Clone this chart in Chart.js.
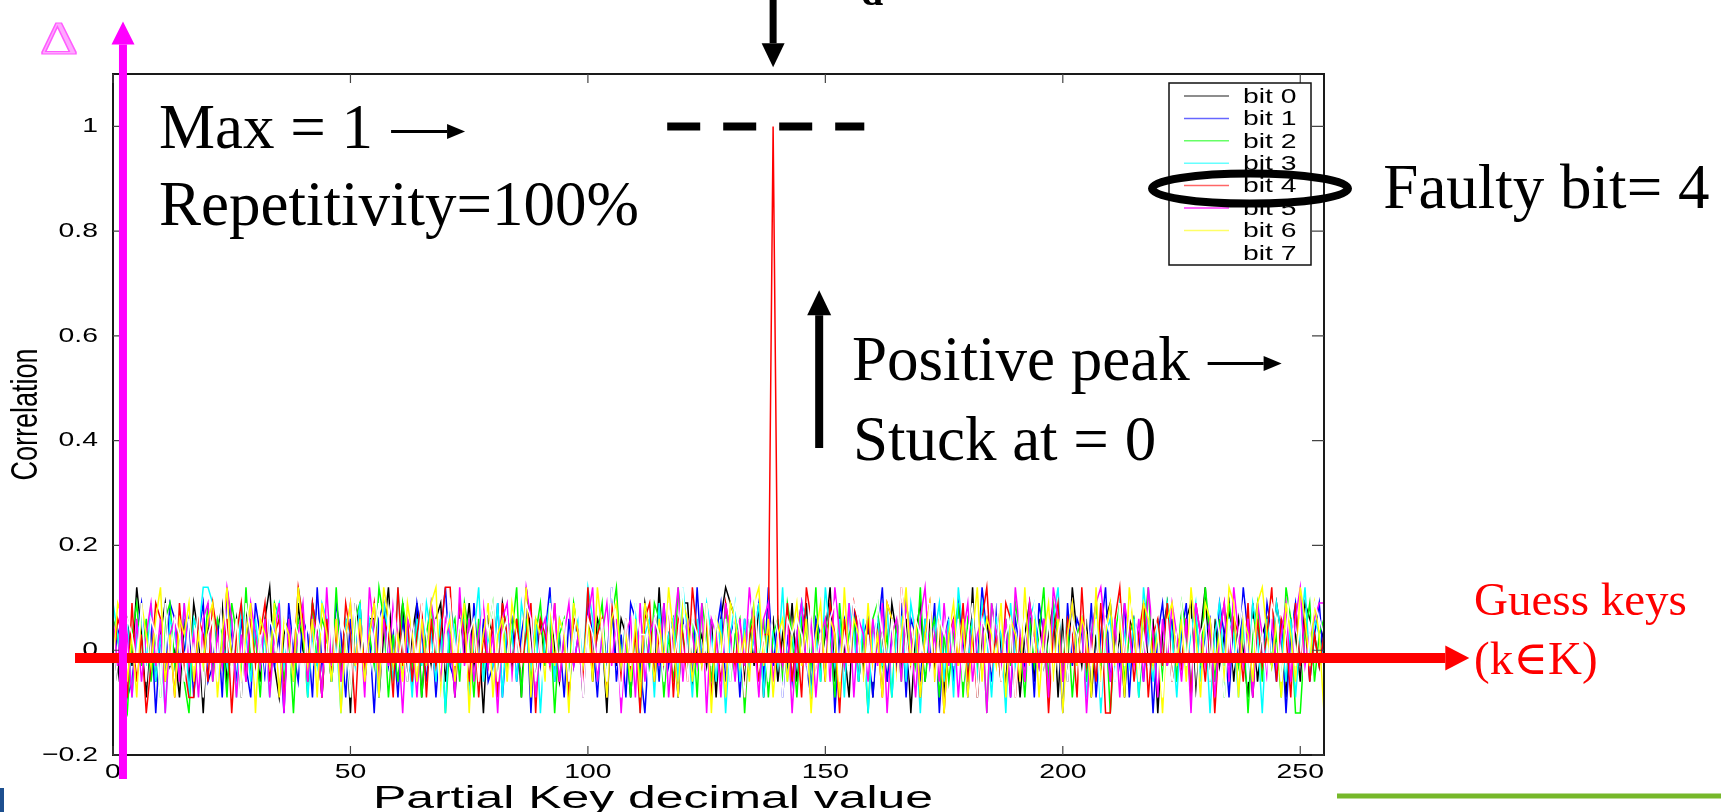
<!DOCTYPE html>
<html>
<head>
<meta charset="utf-8">
<title>Correlation vs partial key</title>
<script src="https://cdn.jsdelivr.net/npm/chart.js@4.4.1/dist/chart.umd.min.js"></script>
<style>
  html, body { margin: 0; padding: 0; background: #ffffff; }
  #plot { display: block; }
</style>
</head>
<body>
<canvas id="plot" width="1721" height="812"></canvas>
<script>
// x axis: the 256 partial key guesses 0..255
const partialKeys = Array.from({ length: 256 }, (_, k) => k);

const xTicks = [0, 50, 100, 150, 200, 250];
const yTicks = [-0.2, 0, 0.2, 0.4, 0.6, 0.8, 1];
const yTickLabels = ['\u22120.2', '0', '0.2', '0.4', '0.6', '0.8', '1'];

const bitLabels = ['bit 0', 'bit 1', 'bit 2', 'bit 3', 'bit 4', 'bit 5', 'bit 6', 'bit 7'];
const bitColors = ['#000000', '#0000ff', '#00ff00', '#00ffff', '#ff0000', '#ff00ff', '#ffff00', '#ffffff'];

// correlation per key guess (noise band is about +-0.12)
const bit0 = [
  0.03, -0.06, 0.09, 0.06, -0.03, 0.12, 0.03, -0.09, 0.06, -0.06, 0.03, 0.09, -0.03, 0, -0.09, 0.06,
  -0.06, 0.09, 0.03, -0.12, 0.06, -0.03, 0.03, 0.09, -0.06, 0, 0.06, -0.09, 0.09, -0.03, 0.03, -0.06,
  0.06, 0.12, -0.03, -0.09, 0.03, 0.06, -0.06, 0.09, 0, -0.03, 0.09, 0.03, -0.09, 0.06, -0.06, 0.03,
  -0.03, 0.06, -0.12, 0.09, 0.03, -0.06, 0.06, 0.06, -0.09, 0.03, 0.12, -0.03, 0, 0.09, -0.06, 0.03,
  0.09, -0.09, 0.03, -0.03, 0.06, 0.09, -0.06, 0.03, -0.09, 0.06, 0, 0.09, -0.03, 0.03, -0.12, 0.06,
  0.03, -0.06, 0.09, 0.03, -0.03, 0.06, -0.09, 0.12, 0.03, -0.06, 0.06, -0.03, 0.09, 0, -0.06, 0.03,
  -0.09, 0.06, 0.03, -0.03, 0.09, -0.06, 0.06, 0.03, -0.12, 0.09, -0.03, 0.06, 0.03, -0.09, 0.06, -0.06,
  0.09, 0.03, -0.06, 0.12, -0.03, 0.03, 0.06, -0.09, 0.09, 0.09, -0.06, 0, 0.03, -0.03, 0.06, -0.09,
  0.06, 0.12, 0.09, 0.06, 0.03, -0.06, 0.06, -0.03, 0.09, -0.09, 0.03, 0.06, -0.06, 0.03, -0.03, 0.09,
  -0.06, 0.03, 0.09, -0.09, 0.06, -0.03, 0.03, 0.12, -0.06, 0.06, 0, -0.09, 0.09, 0.03, -0.03, 0.06,
  -0.09, 0.06, 0.03, -0.06, 0.09, 0.03, -0.03, 0.06, -0.12, 0.03, 0.09, -0.06, 0.06, -0.03, 0.03, -0.09,
  0.06, -0.03, 0.09, 0.03, -0.06, 0.12, -0.09, 0.03, 0.06, -0.03, 0.09, 0, -0.06, 0.06, 0.03, -0.09,
  0.03, 0.09, -0.06, 0.06, -0.03, 0.03, 0.09, -0.09, 0.06, -0.06, 0.12, 0.03, -0.03, 0.06, -0.09, 0.03,
  -0.06, 0.06, 0.09, -0.03, 0.03, -0.09, 0.06, 0.03, -0.06, 0.09, -0.03, 0.06, -0.12, 0.03, 0.09, -0.06,
  0.03, -0.03, 0.06, 0.09, -0.09, 0.03, 0.12, -0.06, 0.06, -0.03, 0.03, 0.09, -0.06, 0.06, 0, -0.09,
  0.09, -0.06, 0.03, 0.06, -0.03, 0.09, 0.03, -0.09, 0.06, 0.03, -0.06, 0.09, 0.06, 0.03, -0.03, 0.06
];
const bit1 = [
  -0.03, 0.03, 0.06, -0.09, -0.06, 0.03, 0.09, -0.03, 0.06, -0.12, 0.03, -0.06, 0.09, 0.06, -0.03, 0,
  0.06, -0.09, 0.03, 0.09, -0.06, -0.03, 0.06, -0.09, 0.12, 0.03, -0.06, 0.06, -0.03, -0.09, 0.09, 0.03,
  -0.06, 0.06, -0.03, 0.03, -0.12, 0.09, 0, -0.06, 0.06, 0.03, -0.09, 0.12, -0.03, 0.03, -0.06, 0.09,
  0.03, -0.09, 0.06, -0.03, 0.09, -0.06, 0.03, -0.12, 0.06, 0.09, -0.03, 0.03, -0.09, 0.06, 0, -0.06,
  0.09, 0.03, -0.06, 0.06, -0.09, 0.03, 0.12, -0.03, -0.06, 0.06, 0.03, -0.09, 0.09, -0.03, 0.06, -0.06,
  -0.03, 0.09, -0.09, 0.03, 0.06, -0.06, 0.03, 0.09, -0.12, 0.06, -0.03, 0.03, 0.12, -0.06, 0.03, -0.09,
  0.06, -0.03, 0.03, -0.06, 0.09, 0.03, -0.09, 0.06, -0.03, 0.12, -0.06, 0.03, -0.09, 0.09, 0.06, -0.03,
  -0.12, 0.03, 0.06, -0.06, 0.09, -0.03, 0.03, -0.09, 0.06, 0.03, -0.06, 0.12, -0.03, 0.06, -0.09, 0.03,
  0.09, -0.06, 0.03, 0.06, -0.09, 0.06, -0.03, 0.03, 0.09, -0.06, 0.12, -0.03, 0.06, -0.09, 0.03, -0.06,
  0.03, 0.09, -0.03, -0.09, 0.06, 0.03, -0.06, 0.09, -0.12, 0.03, 0.06, -0.03, 0.09, -0.06, 0.03, 0.06,
  -0.09, 0.03, 0.12, -0.06, 0.03, -0.03, 0.09, -0.09, 0.06, 0.03, -0.06, 0.06, -0.03, 0.09, -0.12, 0.03,
  0.06, -0.06, 0.09, 0.03, -0.09, 0.06, -0.03, 0.12, 0.03, -0.06, 0.09, -0.03, 0.03, -0.09, 0.06, 0,
  -0.03, 0.06, -0.09, 0.09, 0.03, -0.06, 0.06, 0.03, -0.12, 0.09, -0.03, 0.06, 0.03, -0.06, 0.09, -0.09,
  0.03, 0.12, -0.06, 0.03, -0.03, 0.09, -0.09, 0.06, 0.03, -0.06, 0.06, -0.12, 0.03, 0.09, -0.03, 0.06,
  -0.06, 0.03, 0.09, -0.09, 0.06, -0.03, 0.03, 0.06, -0.06, 0.09, 0.03, -0.09, 0.06, -0.03, 0.12, 0.03,
  -0.09, 0.06, -0.03, 0.09, 0.03, -0.06, 0.06, -0.12, 0.03, 0.09, -0.03, 0.06, -0.06, 0.03, 0.09, -0.03
];
const bit2 = [
  0.06, 0.03, -0.09, -0.12, 0.03, 0.09, -0.03, 0.06, -0.06, 0.03, -0.09, 0.06, 0.09, -0.03, 0.03, -0.06,
  -0.12, 0.06, 0.03, -0.03, 0.09, -0.06, 0.06, 0.03, -0.09, 0.09, 0.03, -0.06, 0.12, -0.03, 0.03, -0.09,
  0.06, -0.03, 0.09, 0.06, -0.06, 0.03, -0.12, 0.06, 0.03, -0.09, 0.09, -0.03, 0.06, 0.03, -0.06, 0.12,
  -0.03, 0.03, -0.09, 0.06, 0.09, -0.06, 0.03, -0.03, 0.12, 0.06, -0.09, 0.03, -0.06, 0.09, 0.03, -0.03,
  0.06, -0.09, 0.03, 0.09, -0.03, 0.06, -0.12, 0.03, 0.06, -0.06, 0.09, 0.03, -0.09, 0.06, -0.03, 0.03,
  0.09, -0.06, 0.06, -0.03, 0.03, 0.12, -0.09, 0.06, -0.06, 0.03, 0.09, -0.03, 0.06, -0.12, 0.03, 0.06,
  -0.06, 0.09, 0.03, -0.09, 0.06, -0.03, 0.03, 0.09, -0.06, 0.06, 0.12, -0.03, 0.03, -0.09, 0.06, -0.06,
  0.03, -0.03, 0.09, 0.06, -0.09, 0.03, -0.06, 0.12, 0.03, -0.03, 0.06, -0.09, 0.09, 0.03, -0.06, 0.06,
  -0.03, 0.09, -0.06, 0.03, 0.06, -0.12, 0.03, 0.09, -0.03, 0.06, -0.09, 0.03, 0.06, -0.06, 0.09, 0.03,
  -0.09, 0.06, 0.03, -0.03, 0.12, -0.06, 0.06, 0.03, -0.09, 0.09, -0.03, 0.03, 0.06, -0.06, 0.03, -0.12,
  0.06, 0.09, -0.03, 0.03, -0.09, 0.06, -0.06, 0.09, 0.03, -0.03, 0.12, -0.06, 0.03, 0.06, -0.09, 0.03,
  -0.06, 0.03, 0.09, -0.09, 0.06, 0.03, -0.03, 0.06, -0.12, 0.09, 0.03, -0.06, 0.06, -0.03, 0.09, 0.03,
  -0.09, 0.06, -0.03, 0.03, 0.12, -0.06, 0.09, 0.03, -0.03, 0.06, -0.09, 0.03, 0.06, -0.06, 0.03, 0.09,
  -0.03, 0.06, -0.12, 0.03, 0.09, -0.06, 0.03, 0.06, -0.09, 0.03, 0.12, -0.03, 0.06, -0.06, 0.09, 0.03,
  -0.06, 0.09, 0.03, -0.09, 0.06, -0.03, 0.12, 0.03, -0.06, 0.06, -0.09, 0.09, 0.03, -0.03, 0.06, -0.12,
  0.03, 0.09, -0.06, 0.06, -0.03, 0.03, -0.09, 0.12, 0.06, -0.12, -0.12, 0.03, 0.09, -0.06, 0.03, 0.06
];
const bit3 = [
  0.09, 0.03, -0.06, 0.06, -0.09, 0.03, 0.06, -0.03, 0.09, -0.06, 0.03, -0.12, 0.06, 0.03, -0.03, 0.09,
  -0.09, 0.06, 0.03, 0.12, 0.12, 0.09, -0.06, 0.03, -0.03, 0.06, -0.09, 0.09, 0.03, -0.06, 0.06, -0.03,
  0.03, -0.09, 0.06, 0.09, -0.03, 0.03, -0.06, 0.12, 0.06, -0.09, 0.03, -0.03, 0.09, 0.06, -0.06, 0.03,
  -0.12, 0.06, 0.03, -0.03, 0.09, -0.06, 0.06, 0.03, -0.09, 0.09, 0.03, -0.06, 0.12, -0.03, 0.03, -0.09,
  0.06, -0.03, 0.09, 0.03, -0.06, 0.06, -0.12, 0.09, 0.03, -0.03, 0.06, -0.09, 0.03, 0.12, -0.06, 0.03,
  -0.03, 0.09, -0.09, 0.06, 0.03, -0.06, 0.09, 0.03, -0.03, 0.06, -0.12, 0.03, 0.09, -0.06, 0.06, 0.03,
  -0.09, 0.03, 0.06, -0.03, 0.12, 0.06, -0.06, 0.03, -0.09, 0.09, 0.03, -0.03, 0.06, -0.06, 0.09, -0.12,
  0.03, 0.06, -0.09, 0.09, -0.03, 0.03, 0.06, -0.06, 0.12, 0.03, -0.09, 0.06, -0.03, 0.09, 0.03, -0.06,
  0.06, -0.12, 0.03, 0.09, -0.06, 0.06, -0.03, 0.03, 0.09, -0.09, 0.06, 0.03, -0.03, 0.12, -0.06, 0.03,
  -0.03, 0.09, 0.06, -0.09, 0.03, -0.06, 0.12, 0.03, -0.03, 0.06, -0.09, 0.09, 0.03, -0.06, 0.06, -0.12,
  0.03, 0.06, -0.03, 0.09, -0.09, 0.03, 0.06, -0.06, 0.09, 0.03, -0.12, 0.06, -0.03, 0.03, 0.09, -0.06,
  0.06, -0.09, 0.12, 0.03, -0.03, 0.06, -0.06, 0.09, 0.03, -0.09, 0.06, 0.03, -0.12, 0.09, -0.03, 0.03,
  -0.06, 0.06, 0.09, -0.03, 0.03, -0.09, 0.06, 0.12, -0.06, 0.03, 0.09, -0.03, 0.06, -0.09, 0.03, 0.06,
  -0.12, 0.03, 0.06, -0.06, 0.09, 0.03, -0.03, 0.06, -0.09, 0.12, 0.03, -0.06, 0.06, -0.03, 0.09, 0.03,
  -0.09, 0.06, -0.03, 0.03, 0.09, -0.06, 0.06, -0.12, 0.03, 0.09, -0.03, 0.06, 0.03, -0.09, 0.06, -0.06,
  0.09, 0.03, -0.12, 0.06, -0.03, 0.09, 0.03, -0.06, 0.06, -0.09, 0.03, 0.12, -0.03, 0.06, 0.03, -0.03
];
// bit 4 is the faulty one: full correlation at key 139
const bit4 = [
  -0.03, 0.06, 0.03, -0.09, 0.09, -0.06, 0.03, -0.12, -0.03, 0.09, 0.06, -0.06, 0.03, -0.09, 0.09, -0.03,
  -0.09, -0.09, 0.06, 0.03, -0.06, 0.09, 0.03, -0.03, 0.06, -0.12, 0.03, 0.09, -0.06, 0.06, -0.03, 0.03,
  0.09, -0.06, 0.03, 0.06, -0.09, 0.03, -0.03, 0.12, 0.06, -0.06, 0.09, 0.03, -0.09, 0.06, -0.03, 0.03,
  -0.06, 0.09, 0.03, -0.12, 0.06, -0.03, 0.03, 0.09, -0.06, 0.06, 0.03, -0.09, 0.12, -0.03, 0.06, -0.06,
  0.03, 0.09, -0.09, 0.06, -0.03, 0.03, 0.12, 0.12, -0.06, 0.09, 0.03, -0.06, 0.06, -0.09, 0.03, -0.03,
  0.06, -0.09, 0.09, 0.03, -0.06, 0.06, -0.03, 0.03, 0.09, -0.12, 0.06, 0.03, -0.03, 0.09, -0.06, 0.03,
  -0.09, 0.06, 0.03, -0.06, 0.12, -0.03, 0.03, 0.06, -0.09, 0.09, 0.03, -0.06, 0.06, -0.03, 0.03, -0.12,
  0.06, 0.09, -0.06, 0.03, -0.03, 0.09, -0.09, 0.06, 0.03, -0.06, 0.12, 0.03, -0.03, 0.06, -0.09, 0.03,
  -0.06, 0.09, 0.03, -0.03, 0.06, -0.09, 0.03, 0.06, -0.06, 0.03, 0.03, 1, 0.06, -0.03, 0.09, -0.06,
  0.03, -0.09, 0.12, 0.06, -0.03, 0.03, -0.06, 0.09, 0.03, -0.12, 0.06, -0.03, 0.09, 0.03, -0.06, 0.06,
  -0.03, 0.03, -0.09, 0.09, 0.06, -0.06, 0.12, 0.03, -0.03, 0.06, -0.09, 0.03, 0.09, -0.06, 0.06, -0.12,
  0.03, 0.06, -0.03, 0.09, -0.06, 0.03, -0.09, 0.06, 0.12, -0.03, 0.03, -0.06, 0.09, 0.06, -0.09, 0.03,
  -0.06, 0.09, 0.03, -0.03, 0.06, -0.12, 0.03, 0.09, -0.06, 0.06, 0.03, -0.09, 0.12, -0.03, 0.03, -0.06,
  0.09, -0.12, -0.12, 0.06, 0.12, -0.03, 0.06, -0.06, 0.03, 0.09, -0.09, 0.03, 0.06, -0.03, 0.09, -0.06,
  0.03, -0.03, 0.06, -0.09, 0.09, 0.03, -0.06, 0.06, -0.12, 0.03, 0.09, -0.03, 0.06, 0.03, -0.06, 0.09,
  -0.09, 0.06, -0.03, 0.03, 0.12, -0.06, 0.06, 0.03, -0.09, 0.09, -0.03, 0.06, -0.06, 0.03, -0.03, 0.03
];
const bit5 = [
  0.06, -0.03, 0.09, 0.03, -0.09, 0.06, -0.06, 0.03, 0.09, -0.03, 0.06, -0.12, 0.03, 0.06, -0.06, 0.09,
  -0.03, 0.03, -0.09, 0.06, 0.09, -0.06, 0.03, -0.03, 0.12, 0.06, -0.09, 0.03, -0.06, 0.09, 0.03, -0.03,
  0.06, -0.09, 0.03, 0.09, -0.12, 0.06, -0.03, 0.03, 0.09, -0.06, 0.06, 0.03, -0.09, 0.12, -0.03, 0.06,
  -0.06, 0.03, 0.09, -0.03, 0.06, -0.09, 0.12, 0.03, -0.06, 0.06, -0.03, 0.09, 0.03, -0.12, 0.06, 0.03,
  -0.09, 0.06, -0.03, 0.09, 0.03, -0.06, 0.06, 0.03, -0.09, 0.12, -0.03, 0.06, -0.06, 0.03, 0.09, -0.03,
  0.03, -0.12, 0.06, 0.09, -0.06, 0.03, -0.03, 0.12, 0.06, -0.09, 0.03, 0.06, -0.03, 0.09, -0.06, 0.03,
  0.09, -0.03, 0.03, -0.09, 0.06, 0.12, -0.06, 0.03, 0.09, -0.03, 0.06, -0.12, 0.03, 0.06, -0.09, 0.09,
  -0.06, 0.03, 0.06, -0.03, 0.09, -0.09, 0.03, 0.12, -0.06, 0.06, 0.03, -0.03, 0.09, -0.12, 0.06, 0.03,
  -0.09, 0.09, 0.03, -0.06, 0.06, -0.03, 0.12, 0.03, -0.09, 0.06, 0.09, -0.06, 0.03, -0.03, 0.06, -0.12,
  0.03, 0.09, -0.03, 0.06, -0.09, 0.03, 0.06, -0.06, 0.12, 0.03, -0.03, 0.09, -0.09, 0.06, 0.03, -0.06,
  0.06, -0.03, 0.09, -0.12, 0.03, 0.06, -0.06, 0.09, 0.03, -0.09, 0.06, 0.12, -0.03, 0.03, -0.06, 0.09,
  -0.03, 0.06, -0.09, 0.03, 0.09, -0.06, 0.03, 0.06, -0.12, 0.09, 0.03, -0.03, 0.06, -0.09, 0.12, 0.03,
  -0.06, 0.09, 0.03, -0.03, 0.06, -0.09, 0.12, 0.06, -0.06, 0.03, 0.09, -0.03, 0.06, -0.12, 0.03, 0.09,
  0.12, 0.03, -0.06, 0.06, -0.09, 0.09, 0.03, -0.03, 0.06, -0.06, 0.12, 0.03, -0.09, 0.06, -0.03, 0.09,
  0.03, -0.06, 0.06, -0.12, 0.09, 0.03, -0.03, 0.06, -0.09, 0.03, 0.09, -0.06, 0.12, 0.03, -0.03, 0.06,
  -0.09, 0.09, 0.03, -0.06, 0.06, -0.03, 0.03, 0.09, -0.06, 0.06, 0.12, -0.03, 0.03, 0.06, 0.09, 0.09
];
const bit6 = [
  -0.03, 0.09, 0.06, -0.06, 0.03, -0.09, 0.09, 0.03, -0.03, 0.06, 0.12, -0.06, 0.03, -0.09, 0.06, 0.03,
  0.09, -0.06, 0.03, -0.03, 0.06, 0.09, -0.09, 0.03, 0.12, -0.03, 0.06, -0.06, 0.03, 0.09, -0.12, 0.06,
  0.03, -0.03, 0.09, -0.09, 0.06, 0.03, -0.06, 0.12, 0.03, -0.03, 0.06, -0.09, 0.09, 0.03, -0.06, 0.06,
  -0.12, 0.03, 0.09, -0.03, 0.06, -0.06, 0.03, 0.09, -0.09, 0.12, 0.06, -0.03, 0.03, -0.06, 0.09, 0.03,
  -0.06, 0.06, -0.03, 0.09, 0.12, -0.09, 0.03, 0.06, -0.06, 0.03, 0.09, -0.12, 0.06, -0.03, 0.03, 0.09,
  -0.09, 0.03, 0.06, -0.06, 0.09, 0.03, -0.03, 0.12, -0.09, 0.06, 0.03, -0.06, 0.09, -0.03, 0.06, 0.03,
  -0.12, 0.09, 0.03, -0.03, 0.06, -0.06, 0.12, 0.03, -0.09, 0.06, 0.09, -0.03, 0.03, -0.06, 0.06, -0.09,
  0.09, 0.03, -0.06, 0.06, -0.03, 0.12, 0.03, -0.09, 0.09, 0.06, -0.06, 0.03, -0.03, 0.09, -0.12, 0.06,
  0.03, -0.09, 0.09, 0.06, -0.03, 0.03, -0.06, 0.09, 0.12, -0.03, 0.06, -0.09, 0.03, 0.06, -0.06, 0.03,
  0.09, -0.03, 0.06, -0.12, 0.03, 0.09, -0.06, 0.06, 0.03, -0.09, 0.12, -0.03, 0.06, 0.03, -0.06, 0.09,
  -0.03, 0.03, -0.09, 0.09, 0.06, -0.06, 0.03, 0.12, -0.03, 0.06, -0.09, 0.03, 0.09, -0.06, 0.06, -0.12,
  0.03, 0.09, -0.03, 0.06, -0.09, 0.03, 0.12, -0.06, 0.06, 0.03, -0.03, 0.09, -0.09, 0.06, 0.03, -0.06,
  0.12, -0.03, 0.06, -0.09, 0.03, 0.09, -0.06, 0.06, -0.12, 0.03, 0.09, -0.03, 0.06, 0.03, -0.09, 0.12,
  -0.06, 0.03, 0.09, -0.03, 0.06, -0.09, 0.12, 0.03, -0.06, 0.09, 0.06, -0.03, 0.03, -0.12, 0.06, 0.09,
  -0.03, 0.06, -0.06, 0.12, 0.03, -0.09, 0.09, 0.06, -0.03, 0.03, -0.06, 0.12, 0.09, -0.09, 0.06, 0.03,
  -0.06, 0.09, 0.12, 0.03, -0.03, 0.06, -0.09, 0.09, 0.03, -0.06, 0.12, 0.06, -0.03, 0.09, 0.03, -0.12
];
const bit7 = [
  0.03, -0.06, -0.09, 0.06, 0.03, -0.03, 0.09, -0.06, 0.06, 0.03, -0.09, 0.09, -0.03, 0.06, 0.03, -0.06,
  0.06, -0.03, 0.09, -0.09, 0.03, 0.06, -0.06, 0.12, 0.03, -0.03, 0.06, -0.09, 0.09, 0.03, -0.06, 0.03,
  -0.09, 0.06, 0.03, -0.03, 0.09, -0.06, 0.06, 0.03, -0.12, 0.09, -0.03, 0.06, 0.03, -0.06, 0.09, -0.03,
  0.06, 0.03, -0.09, 0.09, -0.03, 0.06, -0.06, 0.03, 0.09, -0.09, 0.06, 0.12, -0.03, 0.03, -0.06, 0.06,
  -0.03, 0.09, 0.03, -0.06, 0.06, -0.12, 0.03, 0.09, -0.03, 0.06, -0.09, 0.03, 0.06, -0.06, 0.12, 0.03,
  0.09, -0.06, 0.03, 0.06, -0.09, 0.03, -0.03, 0.09, 0.06, -0.06, 0.03, -0.12, 0.09, 0.03, -0.03, 0.06,
  -0.06, 0.03, 0.09, -0.09, 0.06, 0.03, -0.03, 0.06, -0.06, 0.12, 0.03, -0.09, 0.06, -0.03, 0.09, 0.03,
  0.03, -0.09, 0.06, 0.03, -0.06, 0.09, -0.03, 0.03, 0.12, -0.06, 0.06, 0.03, -0.09, 0.09, -0.03, 0.06,
  -0.03, 0.06, -0.06, 0.09, 0.03, -0.09, 0.06, 0.12, -0.03, 0.03, -0.06, 0.09, 0.03, -0.09, 0.06, 0.03,
  0.06, 0.03, -0.06, 0.09, -0.03, 0.03, -0.12, 0.06, 0.09, -0.06, 0.03, -0.03, 0.09, 0.06, -0.09, 0.03,
  -0.06, 0.09, 0.03, -0.03, 0.06, -0.09, 0.12, 0.03, -0.06, 0.06, 0.03, -0.03, 0.09, -0.12, 0.06, 0.03,
  0.09, -0.03, 0.06, -0.06, 0.03, 0.09, -0.09, 0.06, 0.03, -0.03, 0.12, -0.06, 0.03, 0.06, -0.09, 0.09,
  0.03, -0.06, 0.09, 0.03, -0.03, 0.06, -0.09, 0.03, 0.09, -0.06, 0.06, 0.03, -0.12, 0.09, -0.03, 0.06,
  -0.09, 0.06, 0.03, -0.06, 0.09, -0.03, 0.06, 0.12, -0.06, 0.03, -0.03, 0.09, 0.03, -0.09, 0.06, -0.06,
  0.03, 0.09, -0.03, 0.06, -0.12, 0.03, 0.06, -0.06, 0.09, 0.03, -0.09, 0.06, -0.03, 0.03, 0.09, -0.06,
  0.06, -0.03, 0.03, -0.09, 0.09, 0.06, -0.06, 0.03, 0.12, -0.03, 0.06, -0.09, 0.03, 0.09, 0.06, 0.03
];
const bitSeries = [bit0, bit1, bit2, bit3, bit4, bit5, bit6, bit7];

// the MATLAB figure is pasted horizontally stretched into the slide
const STRETCH = 1.35;
const SANS = '"Liberation Sans", Arial, sans-serif';
const SERIF = '"Liberation Serif", "Times New Roman", "DejaVu Serif", serif';

function stretchText(ctx, text, x, y, opts) {
  ctx.save();
  ctx.translate(x, y);
  if (opts.rotate) ctx.rotate(opts.rotate);
  ctx.scale(opts.sx || 1, opts.sy || 1);
  ctx.font = opts.font;
  ctx.textAlign = opts.align || 'left';
  ctx.textBaseline = opts.baseline || 'alphabetic';
  if (opts.fill) {
    ctx.fillStyle = opts.fill;
    ctx.fillText(text, 0, 0);
  }
  if (opts.stroke) {
    ctx.strokeStyle = opts.color;
    ctx.lineWidth = opts.lineWidth || 1;
    ctx.strokeText(text, 0, 0);
  } else if (!opts.fill) {
    ctx.fillStyle = opts.color || '#000';
    ctx.fillText(text, 0, 0);
  }
  const w = ctx.measureText(text).width * (opts.sx || 1);
  ctx.restore();
  return w;
}

function drawArrow(ctx, x1, y1, x2, y2, shaft, headLen, headHalf, color) {
  const ang = Math.atan2(y2 - y1, x2 - x1);
  const bx = x2 - headLen * Math.cos(ang);
  const by = y2 - headLen * Math.sin(ang);
  ctx.save();
  ctx.strokeStyle = color;
  ctx.fillStyle = color;
  ctx.lineWidth = shaft;
  ctx.lineCap = 'butt';
  ctx.beginPath();
  ctx.moveTo(x1, y1);
  ctx.lineTo(bx, by);
  ctx.stroke();
  ctx.beginPath();
  ctx.moveTo(x2, y2);
  ctx.lineTo(bx + headHalf * Math.sin(ang), by - headHalf * Math.cos(ang));
  ctx.lineTo(bx - headHalf * Math.sin(ang), by + headHalf * Math.cos(ang));
  ctx.closePath();
  ctx.fill();
  ctx.restore();
}

// Times line of slide text, optionally ending with a long symbol-font arrow
function slideLine(ctx, text, x, y, withArrow) {
  const w = stretchText(ctx, text, x, y, { font: '63px ' + SERIF });
  if (withArrow) drawArrow(ctx, x + w + 18, y - 17, x + w + 92, y - 17, 3, 18, 7.5, '#000');
}

// axes box, inward ticks, labels, legend and the slide annotations
const slideOverlay = {
  id: 'slideOverlay',
  afterDraw(chart) {
    const { ctx, chartArea: a, scales: { x, y } } = chart;
    const X = v => x.getPixelForValue(v);
    const Y = v => y.getPixelForValue(v);

    // frame and ticks
    ctx.save();
    ctx.strokeStyle = '#1a1a1a';
    ctx.lineWidth = 2;
    ctx.strokeRect(a.left, a.top, a.width, a.height);
    ctx.lineWidth = 1.2;
    ctx.strokeStyle = '#444';
    xTicks.forEach(v => {
      const px = X(v);
      ctx.beginPath();
      ctx.moveTo(px, a.bottom); ctx.lineTo(px, a.bottom - 9);
      ctx.moveTo(px, a.top); ctx.lineTo(px, a.top + 9);
      ctx.stroke();
    });
    yTicks.forEach(v => {
      const py = Y(v);
      ctx.beginPath();
      ctx.moveTo(a.left, py); ctx.lineTo(a.left + 12, py);
      ctx.moveTo(a.right, py); ctx.lineTo(a.right - 12, py);
      ctx.stroke();
    });
    ctx.restore();

    const tickFont = '21px ' + SANS;
    yTicks.forEach((v, i) => {
      stretchText(ctx, yTickLabels[i], a.left - 15, Y(v), { font: tickFont, sx: STRETCH, align: 'right', baseline: 'middle' });
    });
    xTicks.forEach(v => {
      stretchText(ctx, String(v), X(v), a.bottom + 17, { font: tickFont, sx: STRETCH, align: 'center', baseline: 'middle' });
    });

    // axis titles
    ctx.save();
    ctx.font = '31px ' + SANS;
    const xTitle = 'Partial Key decimal value';
    const sxTitle = 560 / ctx.measureText(xTitle).width;
    ctx.restore();
    stretchText(ctx, xTitle, X(113.7), a.bottom + 53, { font: '31px ' + SANS, sx: sxTitle, align: 'center' });
    stretchText(ctx, 'Correlation', 27, Y(0.45), {
      font: '27px ' + SANS, rotate: -Math.PI / 2, sy: STRETCH, align: 'center', baseline: 'middle'
    });

    // legend box in the upper right corner
    const lgLeft = a.right - 155, lgTop = a.top + 9;
    ctx.save();
    ctx.fillStyle = '#fff';
    ctx.fillRect(lgLeft, lgTop, 142, 182);
    ctx.strokeStyle = '#111';
    ctx.lineWidth = 1.5;
    ctx.strokeRect(lgLeft, lgTop, 142, 182);
    ctx.restore();
    const rowY = i => lgTop + 13 + i * 22.4;
    bitLabels.forEach((label, i) => {
      ctx.save();
      ctx.globalAlpha = 0.6;
      ctx.strokeStyle = bitColors[i];
      ctx.lineWidth = i === 5 ? 2.2 : 1.5;
      ctx.beginPath();
      ctx.moveTo(lgLeft + 15, rowY(i));
      ctx.lineTo(lgLeft + 60, rowY(i));
      ctx.stroke();
      ctx.restore();
      stretchText(ctx, label, lgLeft + 74, rowY(i) + 1, { font: tickFont, sx: STRETCH, baseline: 'middle' });
    });

    // ellipse round "bit 4"
    ctx.save();
    ctx.strokeStyle = '#000';
    ctx.lineWidth = 8;
    ctx.beginPath();
    ctx.ellipse(lgLeft + 81, rowY(4) + 3, 98, 15, 0, 0, Math.PI * 2);
    ctx.stroke();
    ctx.restore();

    // dashed max marker at correlation 1
    ctx.save();
    ctx.strokeStyle = '#000';
    ctx.lineWidth = 8;
    ctx.setLineDash([33, 23]);
    ctx.beginPath();
    ctx.moveTo(X(116.7), Y(1));
    ctx.lineTo(X(158.2), Y(1));
    ctx.stroke();
    ctx.restore();

    // arrows
    drawArrow(ctx, X(139), Y(1.245), X(139), Y(1.113), 7, 24, 11.5, '#000');
    drawArrow(ctx, X(148.7), Y(0.386), X(148.7), Y(0.687), 8, 25, 12, '#000');
    drawArrow(ctx, X(-8), Y(-0.015), X(285.6), Y(-0.015), 10, 24, 12.5, '#ff0000');
    drawArrow(ctx, X(2.1), Y(-0.246), X(2.1), Y(1.2), 8, 23, 11.5, '#ff00ff');

    // slide text
    slideLine(ctx, 'Max = 1', X(9.7), Y(0.958), true);
    slideLine(ctx, 'Repetitivity=100%', X(9.7), Y(0.811), false);
    slideLine(ctx, 'Positive peak', X(155.6), Y(0.515), true);
    slideLine(ctx, 'Stuck at = 0', X(155.8), Y(0.363), false);
    slideLine(ctx, 'Faulty bit= 4', X(267.5), Y(0.844), false);
    stretchText(ctx, 'Guess keys', X(286.6), Y(0.068), { font: '47px ' + SERIF, color: '#ff0000' });
    stretchText(ctx, '(k\u2208K)', X(286.6), Y(-0.045), { font: '47px ' + SERIF, color: '#ff0000' });
    stretchText(ctx, '\u0394', X(-15.4), Y(1.139), {
      font: '46px ' + SERIF, sx: 1.3, fill: '#ffa8ff', stroke: true, color: '#ff5cff', lineWidth: 1.2
    });
    stretchText(ctx, 'd', X(157.5), Y(1.232), { font: 'bold 40px ' + SERIF });

    // bits of the slide template
    ctx.save();
    ctx.strokeStyle = '#76b82a';
    ctx.lineWidth = 5;
    ctx.beginPath();
    ctx.moveTo(1337, 796);
    ctx.lineTo(1721, 796);
    ctx.stroke();
    ctx.fillStyle = '#1d4f8f';
    ctx.fillRect(0, 788, 4, 24);
    ctx.restore();
  }
};

const chart = new Chart(document.getElementById('plot'), {
  type: 'line',
  data: {
    labels: partialKeys,
    datasets: bitSeries.map((values, i) => ({
      label: bitLabels[i],
      data: values,
      borderColor: bitColors[i],
      borderWidth: 1.5,
      pointRadius: 0,
      tension: 0,
      fill: false,
      order: 7 - i
    }))
  },
  options: {
    responsive: false,
    animation: false,
    devicePixelRatio: 1,
    layout: { padding: { left: 113, right: 397, top: 74, bottom: 57 } },
    plugins: {
      legend: { display: false },
      tooltip: { enabled: false }
    },
    scales: {
      x: { type: 'linear', min: 0, max: 255, display: false },
      y: { type: 'linear', min: -0.2, max: 1.1, display: false }
    }
  },
  plugins: [slideOverlay]
});
</script>
</body>
</html>
